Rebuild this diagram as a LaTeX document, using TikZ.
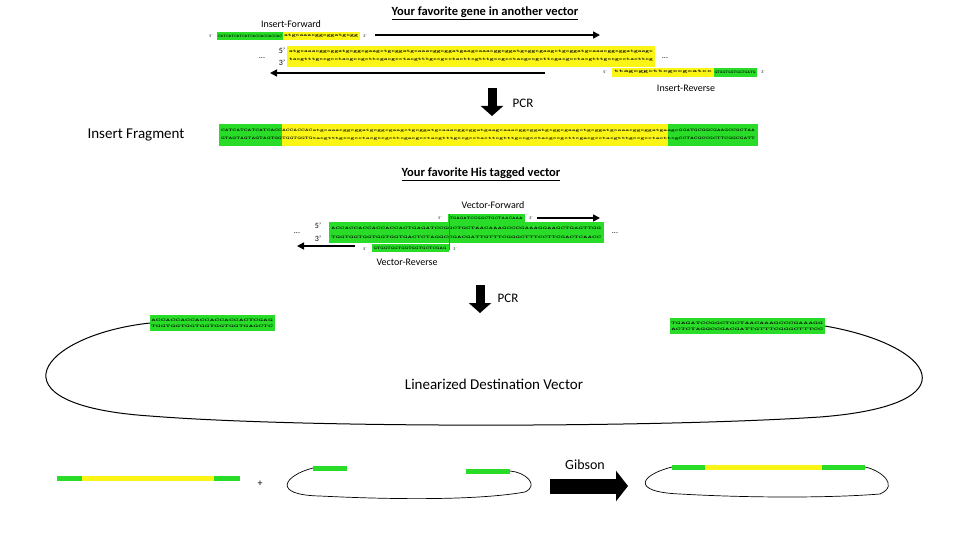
\documentclass[tikz,border=0pt]{standalone}
\usepackage{fontspec}
\setmainfont{Carlito}
\usetikzlibrary{arrows.meta}
\newcommand\sq[2]{\resizebox{#1pt}{2.4pt}{\ttfamily\bfseries #2}}
\definecolor{gg}{RGB}{40,220,40}
\definecolor{yy}{RGB}{250,245,20}
\begin{document}
\begin{tikzpicture}[x=1pt,y=-1pt,
  lbl/.style={font=\fontsize{10}{10}\selectfont,inner sep=1pt},
  ttl/.style={font=\bfseries\fontsize{12.5}{12.5}\selectfont,inner sep=1pt},
  big/.style={font=\fontsize{15}{15}\selectfont,inner sep=1pt},
  pr/.style={font=\fontsize{4}{4}\selectfont,inner sep=0pt},
  sd/.style={font=\fontsize{8}{8}\selectfont,inner sep=0pt},
  arr/.style={line width=1.6pt,-{Triangle[length=7pt,width=7pt]}},
  fat/.style={line width=9pt,-{Triangle[length=10pt,width=22pt]}},
  loop/.style={line width=1pt}]
\useasboundingbox (0,0) rectangle (960,540);
% ---------- top
\node[ttl] (t1) at (485,13) {\underline{Your favorite gene in another vector}};
\node[lbl] (if) at (291,24) {Insert-Forward};
\node[pr] (a5) at (211,36) {5'};
\fill[gg] (217,32) rectangle (283,40); \fill[yy] (283,32) rectangle (360,40);
\node[inner sep=0] (ifs) at (250,36) {\sq{64}{CATCATCATCATCACCACCACCAC}};
\node[inner sep=0] (ifs2) at (321,36) {\sq{74}{atgcaaacggcggatgcgg}};
\node[pr] (a3) at (365,36) {3'};
\coordinate (f1) at (375,35); \coordinate (f2) at (600,35);
\draw[arr] (f1) -- (f2);
\node[sd] (d1) at (262,58) {...};
\node[sd] (g5) at (282,51) {5'};
\node[sd] (g3) at (282,63) {3'};
\fill[yy] (287,46) rectangle (655,67);
\node[inner sep=0] (gs1) at (471,52) {\sq{364}{atgcaaacggcggatgcggcgaagctgcggatgcaaacggcggatgaagcaaacggcggatgcggcgaagctgcggatgcaaacggcggatgaagc}};
\node[inner sep=0] (gs2) at (471,60) {\sq{364}{tacgtttgccgcctacgccgcttcgacgcctacgtttgccgcctacttcgtttgccgcctacgccgcttcgacgcctacgtttgccgcctacttcg}};
\node[sd] (d2) at (665,58) {...};
\coordinate (r1) at (545,73); \coordinate (r2) at (270,73);
\draw[arr] (r1) -- (r2);
\node[pr] (b5) at (605,72) {5'};
\fill[yy] (612,68) rectangle (714,77); \fill[gg] (714,68) rectangle (757,77);
\node[inner sep=0] (irs) at (663,72) {\sq{98}{ttagcggcttcgccgcatcc}};
\node[inner sep=0] (irs2) at (735,72) {\sq{41}{GTGGTGGTGGTGATG}};
\node[pr] (b3) at (763,72) {3'};
\node[lbl] (ir) at (686,88) {Insert-Reverse};
\coordinate (p1) at (492,88); \coordinate (p2) at (492,116);
\draw[fat] (p1) -- (p2);
\node[big,font=\fontsize{13}{13}\selectfont] (pcr1) at (523,103) {PCR};
% ---------- insert fragment
\node[big] (ift) at (136,135) {Insert Fragment};
\fill[gg] (219,124) rectangle (282,146); \fill[yy] (282,124) rectangle (668,146); \fill[gg] (668,124) rectangle (758,146);
\node[inner sep=0] (fs1) at (488,131) {\sq{534}{CATCATCATCATCACCACCACCACatgcaaacggcggatgcggcgaagctgcggatgcaaacggcggatgaagcaaacggcggatgcggcgaagctgcggatgcaaacggcggatgaagcGGATGCGGCGAAGCCGCTAA}};
\node[inner sep=0] (fs2) at (488,139) {\sq{534}{GTAGTAGTAGTAGTGGTGGTGGTGtacgtttgccgcctacgccgcttcgacgcctacgtttgccgcctacttcgtttgccgcctacgccgcttcgacgcctacgtttgccgcctacttcgCCTACGCCGCTTCGGCGATT}};
% ---------- vector
\node[ttl] (t2) at (481,174) {\underline{Your favorite His tagged vector}};
\node[lbl] (vf) at (493,205) {Vector-Forward};
\node[pr] (c5) at (440,218) {5'};
\fill[gg] (448,214) rectangle (525,222);
\node[inner sep=0] (vfs) at (486,218) {\sq{73}{TGAGATCCGGCTGCTAACAAA}};
\node[pr] (c3) at (531,218) {3'};
\coordinate (v1) at (537,218); \coordinate (v2) at (600,218);
\draw[arr] (v1) -- (v2);
\node[sd] (d3) at (297,233) {...};
\node[sd] (h5) at (318,226) {5'};
\node[sd] (h3) at (318,239) {3'};
\fill[gg] (329,222) rectangle (604,243);
\node[inner sep=0] (vs1) at (466,228) {\sq{270}{ACCACCACCACCACCACTGAGATCCGGCTGCTAACAAAGCCCGAAAGGAAGCTGAGTTGG}};
\node[inner sep=0] (vs2) at (466,237) {\sq{270}{TGGTGGTGGTGGTGGTGACTCTAGGCCGACGATTGTTTCGGGCTTTCCTTCGACTCAACC}};
\node[sd] (d4) at (615,233) {...};
\draw[orange!70!black,line width=0.6pt] (449,214) -- (449,250);
\coordinate (w1) at (355,246); \coordinate (w2) at (297,246);
\draw[arr] (w1) -- (w2);
\node[pr] (e5) at (365,249) {5'};
\fill[gg] (372,244) rectangle (449,252);
\node[inner sep=0] (vrs) at (410,248) {\sq{73}{GTGGTGGTGGTGGTGCTCGAG}};
\node[pr] (e3) at (455,249) {3'};
\node[lbl] (vr) at (407,262) {Vector-Reverse};
\coordinate (q1) at (480,285); \coordinate (q2) at (480,313);
\draw[fat] (q1) -- (q2);
\node[big,font=\fontsize{13}{13}\selectfont] (pcr2) at (508,298) {PCR};
% ---------- linearized
\fill[gg] (150,315) rectangle (275,331);
\node[inner sep=0] (ls1) at (212,320) {\sq{122}{ACCACCACCACCACCACCACTCGAG}};
\node[inner sep=0] (ls2) at (212,326) {\sq{122}{TGGTGGTGGTGGTGGTGGTGAGCTC}};
\fill[gg] (670,318) rectangle (825,334);
\node[inner sep=0] (rs1) at (747,323) {\sq{152}{TGAGATCCGGCTGCTAACAAAGCCCGAAAGG}};
\node[inner sep=0] (rs2) at (747,329) {\sq{152}{ACTCTAGGCCGACGATTGTTTCGGGCTTTCC}};
\coordinate (L) at (150,323); \coordinate (R) at (825,326);
\draw[loop] (L) .. controls (40,335) and (-15,405) .. (150,416) .. controls (300,428) and (650,428) .. (820,417) .. controls (975,405) and (935,345) .. (R);
\node[big] (ldv) at (494,384) {Linearized Destination Vector};
% ---------- bottom
\fill[gg] (57,476) rectangle (82,481); \fill[yy] (82,476) rectangle (214,481); \fill[gg] (214,476) rectangle (240,481);
\node[lbl] (plus) at (260,484) {+};
\fill[gg] (313,466) rectangle (347,471); \fill[gg] (466,469) rectangle (510,474);
\coordinate (m1) at (313,468); \coordinate (m2) at (510,471);
\draw[line width=0.7pt] (m1) .. controls (285,475) and (270,495) .. (320,496) .. controls (400,500) and (480,500) .. (525,492) .. controls (540,485) and (525,472) .. (m2);
\coordinate (g1) at (550,486); \coordinate (g2) at (628,486);
\draw[line width=15pt,-{Triangle[length=12pt,width=30pt]}] (g1) -- (g2);
\node[lbl,font=\fontsize{14}{14}\selectfont] (gib) at (585,465) {Gibson};
\fill[gg] (672,465) rectangle (705,470); \fill[yy] (705,465) rectangle (822,470); \fill[gg] (822,465) rectangle (865,470);
\coordinate (n1) at (672,467); \coordinate (n2) at (865,467);
\draw[line width=0.7pt] (n1) .. controls (640,475) and (630,492) .. (680,494) .. controls (750,498) and (830,498) .. (880,494) .. controls (900,485) and (880,470) .. (n2);
\end{tikzpicture}
\end{document}
